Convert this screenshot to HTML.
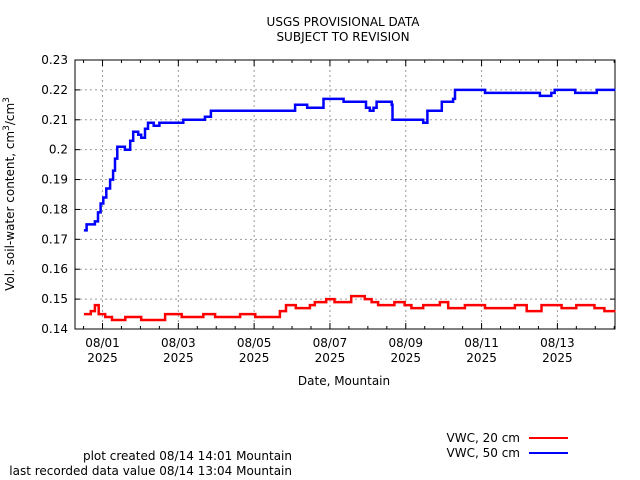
<!DOCTYPE html>
<html><head><meta charset="utf-8"><style>
html,body{margin:0;padding:0;background:#fff;}
svg{display:block;font-family:"DejaVu Sans","Liberation Sans",sans-serif;}
</style></head><body>
<svg id="chart" width="640" height="480" xmlns="http://www.w3.org/2000/svg">
<text x="343" y="26" font-size="12" text-anchor="middle">USGS PROVISIONAL DATA</text>
<text x="343" y="41" font-size="12" text-anchor="middle">SUBJECT TO REVISION</text>
<g id="grid"></g>
<g id="axes"></g>
<g id="series"></g>
<text x="344" y="385" font-size="12" text-anchor="middle">Date, Mountain</text>
<text transform="translate(14,194) rotate(-90)" font-size="12" text-anchor="middle">Vol. soil-water content, cm<tspan font-size="9" dy="-5">3</tspan><tspan dy="5">/cm</tspan><tspan font-size="9" dy="-5">3</tspan></text>
<g>
<text x="520" y="442" font-size="12" text-anchor="end">VWC, 20 cm</text>
<line x1="529" y1="438" x2="568" y2="438" stroke="#ff0000" stroke-width="2"/>
<text x="520" y="457" font-size="12" text-anchor="end">VWC, 50 cm</text>
<line x1="529" y1="453" x2="568" y2="453" stroke="#0000ff" stroke-width="2"/>
</g>
<text x="292" y="460" font-size="12" text-anchor="end">plot created 08/14 14:01 Mountain</text>
<text x="292" y="475" font-size="12" text-anchor="end">last recorded data value 08/14 13:04 Mountain</text>
</svg>
<script>
const yTicks=[0.14,0.15,0.16,0.17,0.18,0.19,0.2,0.21,0.22,0.23];
const yTickLabels=["0.14","0.15","0.16","0.17","0.18","0.19","0.2","0.21","0.22","0.23"];
const xTickDays=[0,2,4,6,8,10,12];
const xTickLabels=["08/01","08/03","08/05","08/07","08/09","08/11","08/13"];
const blueT=[-0.49,-0.42,-0.3,-0.2,-0.12,-0.05,0.02,0.1,0.2,0.28,0.33,0.39,0.5,0.59,0.73,0.81,0.94,1.02,1.12,1.2,1.35,1.5,1.65,2.13,2.7,2.86,4.99,5.08,5.4,5.83,6.05,6.36,6.88,6.95,7.05,7.15,7.23,7.63,7.65,8.46,8.57,8.75,8.95,9.25,9.3,10.09,11.54,11.84,11.93,12.47,13.04,13.53];
const blueV=[0.173,0.175,0.175,0.176,0.179,0.182,0.184,0.187,0.19,0.193,0.197,0.201,0.201,0.2,0.203,0.206,0.205,0.204,0.207,0.209,0.208,0.209,0.209,0.21,0.211,0.213,0.213,0.215,0.214,0.217,0.217,0.216,0.216,0.214,0.213,0.214,0.216,0.215,0.21,0.209,0.213,0.213,0.216,0.217,0.22,0.219,0.218,0.219,0.22,0.219,0.22,0.22];
const redT=[-0.49,-0.31,-0.2,-0.1,0.07,0.25,0.6,0.9,1.02,1.65,2.09,2.66,2.97,3.63,4.03,4.68,4.84,5.1,5.47,5.6,5.9,6.12,6.56,6.92,7.1,7.27,7.7,7.97,8.15,8.46,8.9,9.12,9.56,10.09,10.88,11.19,11.58,12.11,12.5,12.98,13.24,13.53];
const redV=[0.145,0.146,0.148,0.145,0.144,0.143,0.144,0.144,0.143,0.145,0.144,0.145,0.144,0.145,0.144,0.146,0.148,0.147,0.148,0.149,0.15,0.149,0.151,0.15,0.149,0.148,0.149,0.148,0.147,0.148,0.149,0.147,0.148,0.147,0.148,0.146,0.148,0.147,0.148,0.147,0.146,0.146];

const L=75,R=615,T=60,B=329,D0=-0.726,D1=13.52,V0=0.14,V1=0.23;
const xs=d=>L+(d-D0)/(D1-D0)*(R-L);
const ys=v=>B-(v-V0)/(V1-V0)*(B-T);
const NS="http://www.w3.org/2000/svg";
function mk(tag,attrs,parent){const e=document.createElementNS(NS,tag);for(const k in attrs)e.setAttribute(k,attrs[k]);parent.appendChild(e);return e;}
const grid=document.getElementById('grid'),axes=document.getElementById('axes'),series=document.getElementById('series');
yTicks.forEach((v,i)=>{
  const y=ys(v);
  if(i>0&&i<yTicks.length-1){const g=mk('line',{x1:L,x2:R,y1:y,y2:y,stroke:'#999','stroke-dasharray':'2,3'},grid);
  
  }
  const t=mk('text',{x:L-7,y:y+4,'font-size':12,'text-anchor':'end'},axes);
  
  
  t.textContent=yTickLabels[i];
  mk('line',{x1:L,x2:L+5,y1:y,y2:y,stroke:'#000'},axes);
  mk('line',{x1:R,x2:R-5,y1:y,y2:y,stroke:'#000'},axes);
});
xTickDays.forEach((d,i)=>{
  const x=xs(d);
  const g=mk('line',{x1:x,x2:x,y1:T,y2:B,stroke:'#999','stroke-dasharray':'2,3'},grid);
  
  
  const p=xTickLabels[i];
  const t=mk('text',{x:x,y:347,'font-size':12,'text-anchor':'middle'},axes);
  
  
  t.textContent=p;
  const t2=mk('text',{x:x,y:362,'font-size':12,'text-anchor':'middle'},axes);
  
  
  t2.textContent='2025';
});
for(let d=-0.5;d<=D1;d+=0.5){const x=xs(d);const big=Math.abs(d-Math.round(d/2)*2)<1e-6;const h=big?6:3;
  mk('line',{x1:x,x2:x,y1:B,y2:B-h,stroke:'#000'},axes);mk('line',{x1:x,x2:x,y1:T,y2:T+h,stroke:'#000'},axes);}
const frame=mk('rect',{x:L,y:T,width:R-L,height:B-T,fill:'none',stroke:'#000'},axes);


function step(tArr,vArr){let d='';for(let i=0;i<tArr.length;i++){const x=xs(tArr[i]).toFixed(1),y=ys(vArr[i]).toFixed(1);
  if(i===0)d+='M'+x+','+y;else d+='H'+x+'V'+y;}return d;}
const red=mk('path',{d:step(redT,redV),fill:'none',stroke:'#ff0000','stroke-width':2.5},series);


const blue=mk('path',{d:step(blueT,blueV),fill:'none',stroke:'#0000ff','stroke-width':2.5},series);


</script>
</body></html>
